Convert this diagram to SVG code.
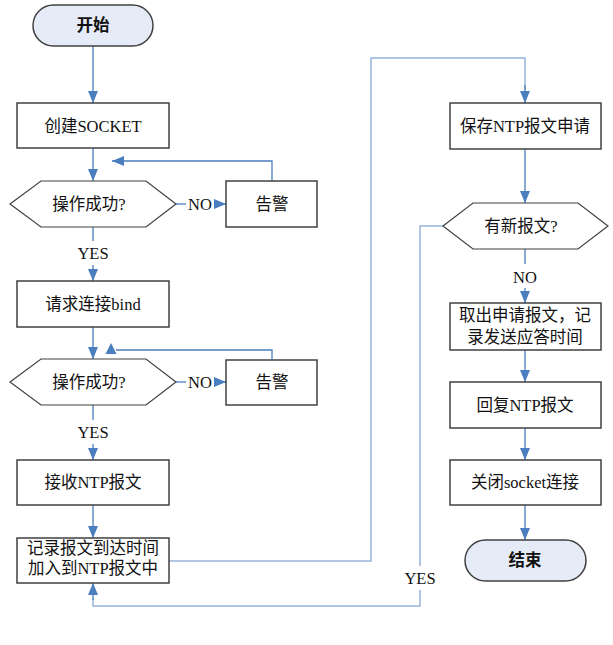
<svg xmlns="http://www.w3.org/2000/svg" width="613" height="645" viewBox="0 0 613 645">
<defs>
<style>
.box{fill:#fff;stroke:#404040;stroke-width:1.5}
.hex{fill:#fff;stroke:#404040;stroke-width:1.2}
.term{fill:#E6ECF7;stroke:#404040;stroke-width:1.5}
.t{font-family:"Liberation Serif","Noto Sans CJK SC",serif;font-size:16.5px;fill:#111;text-anchor:middle}
.b{font-weight:bold}
.c{fill:none;stroke:#4A7EBF;stroke-width:1.3}
.cl{fill:none;stroke:#97B4DC;stroke-width:1.5}
.ah{fill:#4A7EBF}
</style>
<marker id="arr" viewBox="0 0 12 10" refX="12" refY="5" markerWidth="12" markerHeight="10" markerUnits="userSpaceOnUse" orient="auto">
<path d="M0,0 L12,5 L0,10 z" fill="#4A7EBF"/>
</marker>
</defs>
<g id="connectors">
<path class="c" d="M93,46 V103" marker-end="url(#arr)"/>
<path class="c" d="M93,148 V181" marker-end="url(#arr)"/>
<path class="c" d="M176,204 H186"/>
<path class="c" d="M214,204 H226" marker-end="url(#arr)"/>
<path class="c" d="M272,181 V161 H112" marker-end="url(#arr)"/>
<path class="c" d="M93,227 V241"/>
<path class="c" d="M93,265 V281" marker-end="url(#arr)"/>
<path class="c" d="M93,327 V359" marker-end="url(#arr)"/>
<path class="c" d="M176,382 H186"/>
<path class="c" d="M214,382 H226" marker-end="url(#arr)"/>
<path class="c" d="M272,359 V350 H116"/>
<polygon class="ah" points="111,343 105.5,354 116.5,354"/>
<path class="c" d="M93,405 V420"/>
<path class="c" d="M93,444 V460" marker-end="url(#arr)"/>
<path class="c" d="M93,505 V538" marker-end="url(#arr)"/>
<path class="cl" d="M169,561 H371 V58 H525 V90"/>
<path class="c" d="M525,85 V103" marker-end="url(#arr)"/>
<path class="c" d="M525,149 V203" marker-end="url(#arr)"/>
<path class="c" d="M525,249 V264"/>
<path class="c" d="M525,288 V303" marker-end="url(#arr)"/>
<path class="c" d="M525,350 V382" marker-end="url(#arr)"/>
<path class="c" d="M525,428 V460" marker-end="url(#arr)"/>
<path class="c" d="M525,505 V540" marker-end="url(#arr)"/>
<path class="cl" d="M443,226 H420 V566"/>
<path class="cl" d="M420,590 V606 H93 V598"/>
<path class="c" d="M93,600 V583" marker-end="url(#arr)"/>
</g>
<g id="start"><rect class="term" x="33" y="5" width="120" height="41" rx="20.5"/><text class="t b" x="93" y="31">开始</text></g>
<g id="create"><rect class="box" x="17" y="103" width="152" height="45"/><text class="t" x="93" y="131.5">创建SOCKET</text></g>
<g id="check1"><polygon class="hex" points="10,204 41,181 146,181 176,204 146,227 41,227"/><text class="t" x="89" y="209.5">操作成功?</text></g>
<text class="t" x="200" y="209.5">NO</text>
<g id="alarm1"><rect class="box" x="226" y="181" width="91" height="46"/><text class="t" x="272" y="209.5">告警</text></g>
<text class="t" x="93" y="258.5">YES</text>
<g id="bind"><rect class="box" x="17" y="281" width="152" height="46"/><text class="t" x="93" y="309.5">请求连接bind</text></g>
<g id="check2"><polygon class="hex" points="10,382 41,359 146,359 176,382 146,405 41,405"/><text class="t" x="89" y="387.5">操作成功?</text></g>
<text class="t" x="200" y="387.5">NO</text>
<g id="alarm2"><rect class="box" x="226" y="360" width="91" height="45"/><text class="t" x="272" y="387.5">告警</text></g>
<text class="t" x="93" y="437.5">YES</text>
<g id="recv"><rect class="box" x="17" y="460" width="152" height="45"/><text class="t" x="93" y="488">接收NTP报文</text></g>
<g id="record"><rect class="box" x="17" y="538" width="152" height="45"/><text class="t" x="93" y="553.5">记录报文到达时间</text><text class="t" x="93" y="573.5">加入到NTP报文中</text></g>
<g id="save"><rect class="box" x="450" y="103" width="151" height="46"/><text class="t" x="525" y="131.5">保存NTP报文申请</text></g>
<g id="newmsg"><polygon class="hex" points="443,226 473,203 578,203 608,226 578,249 473,249"/><text class="t" x="521" y="231.5">有新报文?</text></g>
<text class="t" x="525" y="282.5">NO</text>
<g id="fetch"><rect class="box" x="450" y="303" width="151" height="47"/><text class="t" x="525" y="320.5">取出申请报文，记</text><text class="t" x="525" y="342.5">录发送应答时间</text></g>
<g id="reply"><rect class="box" x="450" y="382" width="151" height="46"/><text class="t" x="525" y="410.5">回复NTP报文</text></g>
<g id="close"><rect class="box" x="450" y="460" width="151" height="45"/><text class="t" x="525" y="488">关闭socket连接</text></g>
<g id="end"><rect class="term" x="465" y="540" width="121" height="41" rx="20.5"/><text class="t b" x="525" y="566">结束</text></g>
<text class="t" x="420" y="583.5">YES</text>
</svg>
